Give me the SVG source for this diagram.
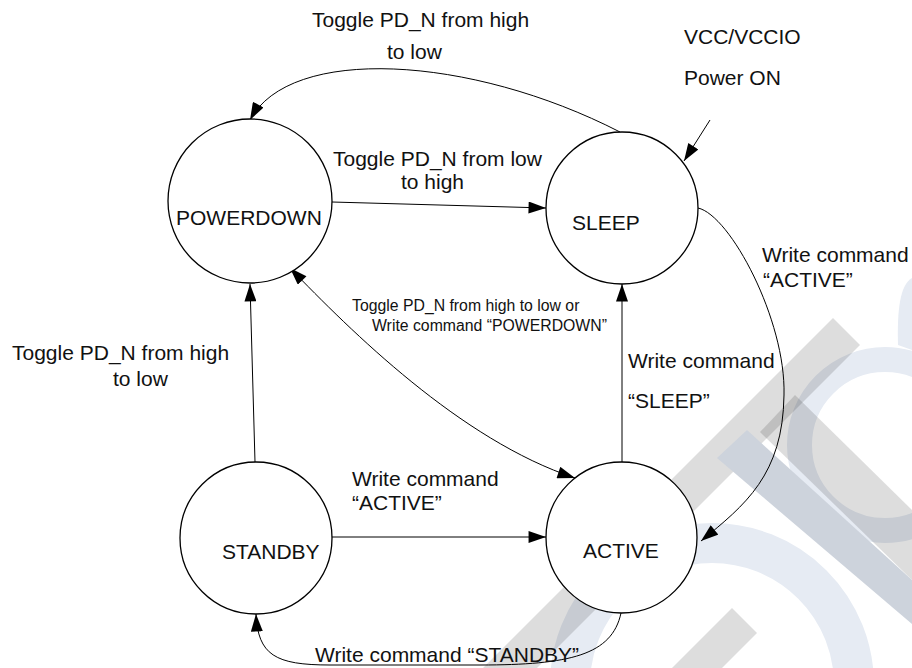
<svg xmlns="http://www.w3.org/2000/svg" width="912" height="668" viewBox="0 0 912 668">
  <style>
    .lbl { font-family: "Liberation Sans", Arial, sans-serif; font-size: 21px; fill: #111; }
    .sm { font-size: 15.8px; }
    .node { fill: #fff; stroke: #000; stroke-width: 1.3; }
    .edge { fill: none; stroke: #000; stroke-width: 1; }
    .ring { fill: none; stroke: #e6ebf3; }
    .bar { fill: #000; fill-opacity: 0.135; }
  </style>
  <defs>
    <marker id="arr" markerUnits="userSpaceOnUse" markerWidth="18" markerHeight="12" viewBox="0 0 16 11" refX="16" refY="5.5" orient="auto-start-reverse">
      <path d="M0,0 L16,5.5 L0,11 Z" fill="#000"/>
    </marker>
  </defs>
  <rect width="912" height="668" fill="#fff"/>

  <g id="watermark">
    <circle class="ring" cx="712" cy="685" r="142" stroke-width="40"/>
    <circle class="ring" cx="885" cy="445" r="85.5" stroke-width="25"/>
    <path d="M912 278 C900 285 897 310 898 345 L912 350 Z" fill="#e6ebf3"/>
    <polygon class="bar" points="833,318 860,345 460,745 433,718"/>
    <polygon class="bar" points="795,395 912,510 912,580 760,432"/>
    <polygon class="bar" points="732,608 757,633 687,703 662,678"/>
    <polygon points="747,430 717,458 912,624 912,580" fill="#cdd3dc"/>
  </g>

  <g id="connectors">
    <path class="edge" d="M620 132 C470 55 290 45 250 120" marker-end="url(#arr)"/>
    <path class="edge" d="M332 202 L546 208" marker-end="url(#arr)"/>
    <path class="edge" d="M710 120 L684 161" marker-end="url(#arr)"/>
    <path class="edge" d="M698 208 C730 215 786 320 784 395 C783 475 745 505 701 541" marker-end="url(#arr)"/>
    <path class="edge" d="M622 462 L622 284" marker-end="url(#arr)"/>
    <path class="edge" d="M255 462 L250 284" marker-end="url(#arr)"/>
    <path class="edge" d="M331 537 L546 537" marker-end="url(#arr)"/>
    <path class="edge" d="M290 268 C350 330 460 440 575 478" marker-start="url(#arr)" marker-end="url(#arr)"/>
    <path class="edge" d="M621 613 C612 655 570 665 480 665 L330 665 C275 665 258 655 256 614" marker-end="url(#arr)"/>
  </g>

  <g id="node-powerdown">
    <circle class="node" cx="250" cy="201" r="82" stroke-width="2"/>
    <text class="lbl" x="176" y="225">POWERDOWN</text>
  </g>
  <g id="node-sleep">
    <circle class="node" cx="622" cy="208" r="76"/>
    <text class="lbl" x="572" y="230">SLEEP</text>
  </g>
  <g id="node-standby">
    <circle class="node" cx="256" cy="538" r="76"/>
    <text class="lbl" x="222" y="559">STANDBY</text>
  </g>
  <g id="node-active">
    <circle class="node" cx="621.5" cy="537.5" r="75.5"/>
    <text class="lbl" x="583" y="558">ACTIVE</text>
  </g>

  <g id="labels">
    <text class="lbl" x="312" y="27">Toggle PD_N from high</text>
    <text class="lbl" x="387" y="59">to low</text>
    <text class="lbl" x="684" y="44">VCC/VCCIO</text>
    <text class="lbl" x="684" y="85">Power ON</text>
    <text class="lbl" x="333" y="166">Toggle PD_N from low</text>
    <text class="lbl" x="401" y="189">to high</text>
    <text class="lbl" x="762" y="262">Write command</text>
    <text class="lbl" x="763" y="287">“ACTIVE”</text>
    <text class="lbl sm" x="352" y="311">Toggle PD_N from high to low or</text>
    <text class="lbl sm" x="372" y="331">Write command “POWERDOWN”</text>
    <text class="lbl" x="12" y="360">Toggle PD_N from high</text>
    <text class="lbl" x="113" y="386">to low</text>
    <text class="lbl" x="628" y="368">Write command</text>
    <text class="lbl" x="628" y="408">“SLEEP”</text>
    <text class="lbl" x="352" y="486">Write command</text>
    <text class="lbl" x="352" y="510">“ACTIVE”</text>
    <text class="lbl" x="315" y="662">Write command “STANDBY”</text>
  </g>
</svg>
